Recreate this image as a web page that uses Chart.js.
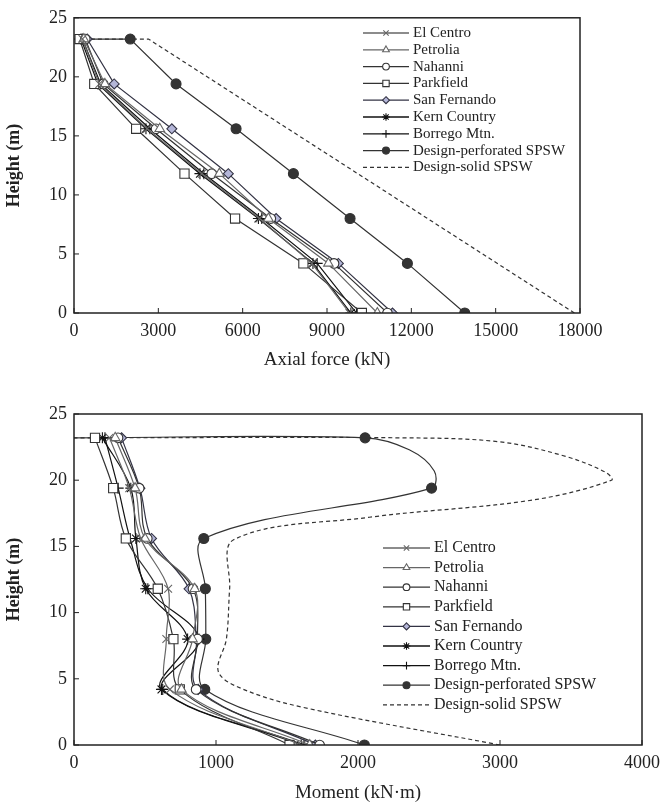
<!DOCTYPE html>
<html lang="en">
  <head>
    <meta charset="UTF-8" />
    <title>SPSW column forces</title>
    <style>
      body { margin: 0; background: #fff; }
      canvas { position: absolute; left: 0; }
      #axialChart { top: 0; }
      #momentChart { top: 390px; }
    </style>
  </head>
  <body>
    <canvas id="axialChart" width="667" height="385"></canvas>
    <canvas id="momentChart" width="667" height="415"></canvas>
  </body>
  <script src="https://cdn.jsdelivr.net/npm/chart.js"></script>
  <script>
    // storey heights (m), bottom to top
    let heights = [0, 4.2, 8.0, 11.8, 15.6, 19.4, 23.2];
    let names = ["El Centro", "Petrolia", "Nahanni", "Parkfield", "San Fernando", "Kern Country", "Borrego Mtn."];

    // axial force (kN) per record
    let axialElCentro = [9800, 8460, 6600, 4550, 2600, 900, 300];
    let axialPetrolia = [10790, 9050, 6915, 5170, 3050, 1100, 350];
    let axialNahanni = [11150, 9250, 7000, 4900, 2920, 1040, 400];
    let axialParkfield = [10240, 8160, 5730, 3930, 2210, 720, 200];
    let axialSanFernando = [11330, 9405, 7190, 5490, 3480, 1430, 470];
    let axialKern = [9850, 8500, 6560, 4480, 2560, 850, 250];
    let axialBorrego = [10050, 8650, 6680, 4620, 2700, 950, 300];
    let axialPerfHeights = [0, 4.2, 8.0, 11.8, 15.6, 19.4, 23.2, 23.2];
    let axialPerf = [13900, 11860, 9820, 7805, 5765, 3630, 2000, 0];
    let axialSolidHeights = [0, 23.2, 23.2];
    let axialSolid = [17800, 2650, 0];

    // moment (kN.m) per record
    let momentElCentro = [1600, 675, 650, 663, 470, 389, 250];
    let momentPetrolia = [1660, 757, 835, 850, 500, 430, 290];
    let momentNahanni = [1730, 860, 870, 838, 516, 459, 310];
    let momentParkfield = [1518, 745, 700, 590, 365, 276, 148];
    let momentSanFernando = [1700, 874, 862, 810, 546, 464, 335];
    let momentKern = [1600, 616, 800, 505, 436, 400, 200];
    let momentBorrego = [1620, 625, 880, 520, 395, 311, 218];
    // design curves carry a few extra read-off points (no markers) so the bends follow the picture
    let momentPerfHeights = [0, 4.2, 8.0, 11.8, 15.6, 19.4, 20.7, 22.3, 23.2, 23.2];
    let momentPerf = [2045, 921, 928, 925, 914, 2518, 2537, 2361, 2050, 0];
    let momentSolidHeights = [0, 2.9, 4.4, 5.6, 8.0, 11.8, 15.5, 17.2, 18.5, 20.0, 20.6, 21.8, 22.9, 23.2, 23.2];
    let momentSolid = [3000, 1590, 1150, 1015, 1073, 1096, 1124, 2080, 3228, 3785, 3743, 3462, 2994, 2300, 0];

    // marker / line look for every series
    let looks = {
      "El Centro": { pointStyle: "crossRot", color: "#666", fill: "#fff", r: 5.5 },
      "Petrolia": { pointStyle: "triangle", color: "#666", fill: "#fff", r: 5.5 },
      "Nahanni": { pointStyle: "circle", color: "#333", fill: "#fff", r: 4.8 },
      "Parkfield": { pointStyle: "rect", color: "#333", fill: "#fff", r: 6.5 },
      "San Fernando": { pointStyle: "rectRot", color: "#334", fill: "#b4b6d8", r: 5 },
      "Kern Country": { pointStyle: "star", color: "#111", fill: "#111", r: 5.5 },
      "Borrego Mtn.": { pointStyle: "cross", color: "#111", fill: "#111", r: 5.5 },
      "Design-perforated SPSW": { pointStyle: "circle", color: "#333", fill: "#333", r: 5 },
      "Design-solid SPSW": { pointStyle: false, color: "#333", fill: "#333", r: 0, dash: [4, 3] },
    };

    function makeSet(label, xs, ys, tension) {
      let lk = looks[label];
      return {
        label: label,
        data: xs.map((v, i) => ({ x: v, y: ys[i] })),
        showLine: true,
        tension: tension,
        borderColor: lk.color,
        borderWidth: 1.2,
        borderDash: lk.dash || [],
        pointStyle: lk.pointStyle,
        // markers only on storey levels, never on the roof start point at x = 0
        pointRadius: xs.map((v, i) => (lk.r && heights.includes(ys[i]) && v !== 0 ? lk.r : 0)),
        pointBorderWidth: 1.1,
        pointBorderColor: lk.color,
        pointBackgroundColor: lk.fill,
      };
    }

    function drawMarker(ctx, style, x, y, r, color, fill) {
      ctx.save();
      ctx.strokeStyle = color;
      ctx.fillStyle = fill;
      ctx.lineWidth = 1.1;
      ctx.setLineDash([]);
      ctx.beginPath();
      if (style === "circle") {
        ctx.arc(x, y, r, 0, Math.PI * 2);
        ctx.fill(); ctx.stroke();
      } else if (style === "rect") {
        ctx.rect(x - r * 0.7, y - r * 0.7, r * 1.4, r * 1.4);
        ctx.fill(); ctx.stroke();
      } else if (style === "rectRot") {
        ctx.moveTo(x, y - r); ctx.lineTo(x + r, y); ctx.lineTo(x, y + r); ctx.lineTo(x - r, y); ctx.closePath();
        ctx.fill(); ctx.stroke();
      } else if (style === "triangle") {
        ctx.moveTo(x, y - r); ctx.lineTo(x + r * 0.87, y + r * 0.5); ctx.lineTo(x - r * 0.87, y + r * 0.5); ctx.closePath();
        ctx.fill(); ctx.stroke();
      } else {
        let d = r * 0.7;
        if (style === "cross" || style === "star") {
          ctx.moveTo(x, y - r); ctx.lineTo(x, y + r); ctx.moveTo(x - r, y); ctx.lineTo(x + r, y);
        }
        if (style === "crossRot" || style === "star") {
          ctx.moveTo(x - d, y - d); ctx.lineTo(x + d, y + d); ctx.moveTo(x + d, y - d); ctx.lineTo(x - d, y + d);
        }
        ctx.stroke();
      }
      ctx.restore();
    }

    // frame, inward ticks and the legend box inside the plot
    let framePlugin = {
      id: "frame",
      afterDatasetsDraw(chart) {
        let ctx = chart.ctx;
        let a = chart.chartArea;
        let opt = chart.options.plugins.frame;
        ctx.save();
        ctx.strokeStyle = "#222";
        ctx.lineWidth = 1.5;
        ctx.strokeRect(a.left, a.top, a.right - a.left, a.bottom - a.top);
        ctx.lineWidth = 1;
        ctx.beginPath();
        chart.scales.x.ticks.forEach((t) => {
          let px = chart.scales.x.getPixelForValue(t.value);
          ctx.moveTo(px, a.bottom); ctx.lineTo(px, a.bottom - 5);
        });
        chart.scales.y.ticks.forEach((t) => {
          let py = chart.scales.y.getPixelForValue(t.value);
          ctx.moveTo(a.left, py); ctx.lineTo(a.left + 5, py);
        });
        ctx.stroke();

        ctx.font = opt.font + "px 'Liberation Serif'";
        ctx.textBaseline = "middle";
        ctx.fillStyle = "#222";
        chart.data.datasets.forEach((ds, i) => {
          let lk = looks[ds.label];
          let y = opt.y + i * opt.row;
          ctx.strokeStyle = lk.color;
          ctx.lineWidth = 1.3;
          ctx.setLineDash(lk.dash || []);
          ctx.beginPath();
          ctx.moveTo(opt.x, y); ctx.lineTo(opt.x + opt.w, y);
          ctx.stroke();
          ctx.setLineDash([]);
          if (lk.pointStyle) drawMarker(ctx, lk.pointStyle, opt.x + opt.w / 2, y, lk.r * 0.7, lk.color, lk.fill);
          ctx.fillStyle = "#222";
          ctx.fillText(ds.label, opt.x + opt.w + 4, y);
        });
        ctx.restore();
      },
    };

    function axisOptions(xMax, xStep, xTitle, xHeight, titleBottom) {
      let tickFont = { family: "'Liberation Serif'", size: 18 };
      return {
        x: {
          type: "linear", min: 0, max: xMax,
          ticks: { stepSize: xStep, font: tickFont, color: "#222", padding: 7, maxRotation: 0, callback: (v) => String(v) },
          grid: { display: false, drawTicks: false },
          border: { display: false },
          title: { display: true, text: xTitle, color: "#222", font: { family: "'Liberation Serif'", size: 19 }, padding: { top: 0, bottom: titleBottom } },
          afterFit: (s) => { s.height = xHeight; },
        },
        y: {
          type: "linear", min: 0, max: 25,
          ticks: { stepSize: 5, font: tickFont, color: "#222", padding: 7, callback: (v) => String(v) },
          grid: { display: false, drawTicks: false },
          border: { display: false },
          title: { display: true, text: "Height (m)", color: "#222", font: { family: "'Liberation Serif'", size: 18, weight: "bold" }, padding: { top: 4, bottom: 0 } },
          afterFit: (s) => { s.width = 74; },
        },
      };
    }

    function seriesFor(values, perf, perfH, solid, solidH, tension) {
      let sets = names.map((n, i) => makeSet(n, values[i], heights, tension));
      sets.push(makeSet("Design-perforated SPSW", perf, perfH, tension));
      sets.push(makeSet("Design-solid SPSW", solid, solidH, tension));
      return sets;
    }

    new Chart(document.getElementById("axialChart"), {
      type: "scatter",
      data: {
        datasets: seriesFor(
          [axialElCentro, axialPetrolia, axialNahanni, axialParkfield, axialSanFernando, axialKern, axialBorrego],
          axialPerf, axialPerfHeights, axialSolid, axialSolidHeights, 0
        ),
      },
      options: {
        responsive: false,
        animation: false,
        layout: { padding: { top: 14, right: 87, bottom: 10, left: 0 } },
        scales: axisOptions(18000, 3000, "Axial force (kN)", 62, 4),
        plugins: {
          legend: { display: false },
          tooltip: { enabled: false },
          frame: { x: 363, y: 33, row: 16.8, w: 46, font: 15 },
        },
      },
      plugins: [framePlugin],
    });

    new Chart(document.getElementById("momentChart"), {
      type: "scatter",
      data: {
        datasets: seriesFor(
          [momentElCentro, momentPetrolia, momentNahanni, momentParkfield, momentSanFernando, momentKern, momentBorrego],
          momentPerf, momentPerfHeights, momentSolid, momentSolidHeights, 0.35
        ),
      },
      options: {
        responsive: false,
        animation: false,
        layout: { padding: { top: 24, right: 24, bottom: 0, left: 0 } },
        scales: axisOptions(4000, 1000, "Moment (kN\u00b7m)", 60, 1),
        plugins: {
          legend: { display: false },
          tooltip: { enabled: false },
          frame: { x: 383, y: 158, row: 19.6, w: 47, font: 16 },
        },
      },
      plugins: [framePlugin],
    });
  </script>
</html>
